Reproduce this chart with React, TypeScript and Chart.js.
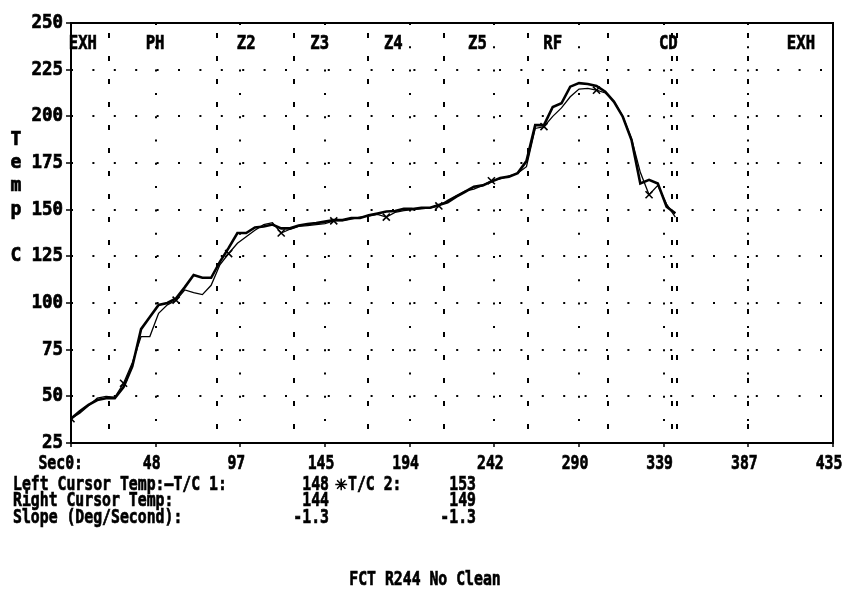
import { useEffect, useRef } from "react";
import { Chart, registerables } from "chart.js";

Chart.register(...registerables);

// ---- data ----
const timeSec = [
  0, 5, 10, 15, 20, 25, 30, 35, 40, 45, 50, 55, 60, 65, 70, 75, 80, 85, 90, 95,
  100, 105, 110, 115, 120, 125, 130, 135, 140, 145, 150, 155, 160, 165, 170, 175,
  180, 185, 190, 195, 200, 205, 210, 215, 220, 225, 230, 235, 240, 245, 250, 255,
  260, 265, 270, 275, 280, 285, 290, 295, 300, 305, 310, 315, 320, 325, 330, 335,
  340, 345,
];
const tc1Temp = [
  38, 42, 45.5, 48, 49, 49, 55, 66, 86, 92.5, 99, 100, 102.5, 108.5, 115, 113.5,
  113.5, 122, 129.5, 137.5, 137.5, 140.5, 141, 142, 140, 140, 141.5, 142.3, 142.8,
  143.6, 144.5, 144.5, 145.5, 145.5, 147, 148, 149, 149.3, 150.4, 150.4, 151, 151,
  152.5, 154, 157, 159.6, 162.3, 163, 165, 167, 167.7, 169.6, 176, 195.3, 195.3,
  205, 207, 215.9, 217.8, 217.3, 216.3, 213.2, 207.8, 199.8, 187.3, 164, 166, 164,
  151.6, 148,
];
const tc2Temp = [
  38, 41, 45, 49, 50, 49.5, 57, 68, 82, 82, 94.5, 99, 101.5, 107, 105.5, 104.5,
  109.5, 120.5, 126.5, 132, 135.5, 139, 142, 143, 137.5, 139.5, 141, 141.5, 142,
  142.5, 144, 144, 145, 146, 146.5, 147.5, 146, 148.5, 149.5, 150, 150.5, 151, 152,
  155, 157.5, 160, 161, 163, 165.5, 166.5, 168, 169.5, 173, 193.5, 194.5, 200,
  204.5, 210.5, 214.6, 215, 214, 212.5, 208, 200, 188, 170, 158, 163, 153, 146,
];
const xTickValues = [0, 48.33, 96.67, 145, 193.33, 241.67, 290, 338.33, 386.67, 435];
const xTickLabels = ["Sec0:", "48", "97", "145", "194", "242", "290", "339", "387", "435"];
const yTickValues = [25, 50, 75, 100, 125, 150, 175, 200, 225, 250];
const zoneBoundarySec = [21.7, 83.3, 127.3, 169.5, 212.9, 260.8, 306.5, 343, 345.9, 386.4];
const zoneLabels = ["EXH", "PH", "Z2", "Z3", "Z4", "Z5", "RF", "CD", "EXH"];
const zoneLabelSec = [6.8, 48, 100, 142, 184, 232, 275, 341, 416.7];
const yAxisTitle = ["T", "e", "m", "p", "", "C"];
const cursorRowLabels = ["Left Cursor Temp:\u2014T/C 1:", "Right Cursor Temp:", "Slope (Deg/Second):"];
const tc2LegendMark = "\u2733";
const tc2LegendText = "T/C 2:";
const tc1Cursor = ["148", "144", "-1.3"];
const tc2Cursor = ["153", "149", "-1.3"];
const chartTitle = "FCT R244 No Clean";

const FONT = "'DejaVu Sans Mono', 'Liberation Mono', monospace";

function drawText(
  ctx: CanvasRenderingContext2D,
  text: string,
  x: number,
  y: number,
  align: CanvasTextAlign,
  sx = 0.74,
  size = 20
) {
  ctx.save();
  ctx.font = `bold ${size}px ${FONT}`;
  ctx.textAlign = align;
  ctx.textBaseline = "middle";
  ctx.fillStyle = "#000";
  ctx.strokeStyle = "#000";
  ctx.lineWidth = 0.7;
  ctx.translate(x, y);
  ctx.scale(sx, 1);
  ctx.fillText(text, 0, 0);
  ctx.strokeText(text, 0, 0);
  ctx.restore();
}

const gridPlugin = {
  id: "dosGrid",
  beforeDatasetsDraw(chart: any) {
    const { ctx, chartArea: a, scales } = chart;
    const xs = scales.x;
    const ys = scales.y;
    ctx.save();
    ctx.strokeStyle = "#000";
    // horizontal dotted rows
    ctx.lineWidth = 2;
    ctx.setLineDash([2, 19.4]);
    yTickValues.forEach((v) => {
      if (v === 25 || v === 250) return;
      const y = Math.round(ys.getPixelForValue(v));
      ctx.beginPath();
      ctx.moveTo(a.left, y);
      ctx.lineTo(a.right, y);
      ctx.stroke();
    });
    // vertical dotted columns
    ctx.setLineDash([2, 21.3]);
    xTickValues.forEach((v, i) => {
      if (i === 0 || i === xTickValues.length - 1) return;
      const x = Math.round(xs.getPixelForValue(v));
      ctx.beginPath();
      ctx.moveTo(x, a.top);
      ctx.lineTo(x, a.bottom);
      ctx.stroke();
    });
    // zone boundaries
    ctx.setLineDash([5, 18]);
    ctx.lineDashOffset = -10;
    zoneBoundarySec.forEach((v) => {
      const x = Math.round(xs.getPixelForValue(v));
      ctx.beginPath();
      ctx.moveTo(x, a.top);
      ctx.lineTo(x, a.bottom);
      ctx.stroke();
    });
    ctx.setLineDash([]);
    ctx.lineDashOffset = 0;
    // frame
    ctx.lineWidth = 2;
    ctx.beginPath();
    ctx.moveTo(a.left, a.top);
    ctx.lineTo(a.right, a.top);
    ctx.lineTo(a.right, a.bottom);
    ctx.lineTo(a.left, a.bottom);
    ctx.closePath();
    ctx.stroke();
    // tick marks
    ctx.lineWidth = 1.5;
    yTickValues.forEach((v) => {
      const y = Math.round(ys.getPixelForValue(v));
      ctx.beginPath();
      ctx.moveTo(a.left - 5, y);
      ctx.lineTo(a.left, y);
      ctx.stroke();
    });
    xTickValues.forEach((v) => {
      const x = Math.round(xs.getPixelForValue(v));
      ctx.beginPath();
      ctx.moveTo(x, a.bottom);
      ctx.lineTo(x, a.bottom + 4);
      ctx.stroke();
    });
    ctx.restore();
  },
  afterDraw(chart: any) {
    const { ctx, chartArea: a, scales } = chart;
    const xs = scales.x;
    const ys = scales.y;
    // y tick labels
    yTickValues.forEach((v) => {
      drawText(ctx, String(v), a.left - 8, ys.getPixelForValue(v), "right", 0.92, 19);
    });
    // y axis title (stacked letters)
    const rowH = (ys.getPixelForValue(175) - ys.getPixelForValue(200)) / 2;
    const y0 = ys.getPixelForValue(175) - rowH;
    yAxisTitle.forEach((ch, i) => {
      if (!ch) return;
      drawText(ctx, ch, 16, y0 + i * rowH, "center", 0.95, 19);
    });
    // zone labels
    const zy = ys.getPixelForValue(239);
    zoneLabels.forEach((lab, i) => {
      drawText(ctx, lab, xs.getPixelForValue(zoneLabelSec[i]), zy, "center", 0.78, 20);
    });
    // x tick labels
    const ly = a.bottom + 21;
    xTickLabels.forEach((lab, i) => {
      const x = xs.getPixelForValue(xTickValues[i]);
      if (i === 0) drawText(ctx, lab, x + 12, ly, "right");
      else drawText(ctx, lab, x - 4, ly, "center");
    });
    // cursor info rows
    const rowsY = [a.bottom + 42, a.bottom + 58, a.bottom + 75];
    cursorRowLabels.forEach((lab, i) => {
      drawText(ctx, lab, 13, rowsY[i], "left");
      drawText(ctx, tc1Cursor[i], 329, rowsY[i], "right");
      drawText(ctx, tc2Cursor[i], 476, rowsY[i], "right");
    });
    drawText(ctx, tc2LegendMark, 341, rowsY[0], "center", 1, 20);
    drawText(ctx, tc2LegendText, 348, rowsY[0], "left");
    // title
    drawText(ctx, chartTitle, 425, a.bottom + 137, "center");
  },
};

export default function App() {
  const ref = useRef<HTMLCanvasElement>(null);
  useEffect(() => {
    document.body.style.margin = "0";
    if (!ref.current) return;
    const chart = new Chart(ref.current, {
      type: "line",
      data: {
        datasets: [
          {
            label: "T/C 1",
            data: timeSec.map((t, i) => ({ x: t, y: tc1Temp[i] })),
            borderColor: "#000",
            borderWidth: 2.6,
            pointRadius: 0,
            tension: 0,
          },
          {
            label: "T/C 2",
            data: timeSec.map((t, i) => ({ x: t, y: tc2Temp[i] })),
            borderColor: "#000",
            borderWidth: 1.3,
            tension: 0,
            pointStyle: "crossRot",
            pointRadius: (c: any) => (c.dataIndex % 6 === 0 ? 5 : 0),
            pointBorderWidth: 1.6,
            pointBorderColor: "#000",
            pointBackgroundColor: "#000",
          },
        ],
      },
      options: {
        responsive: false,
        animation: false,
        layout: { padding: { left: 71, top: 23, right: 14, bottom: 155 } },
        plugins: {
          legend: { display: false },
          tooltip: { enabled: false },
          title: { display: false },
        },
        scales: {
          x: { type: "linear", min: 0, max: 435, display: false },
          y: { type: "linear", min: 25, max: 250, display: false },
        },
      },
      plugins: [gridPlugin],
    });
    return () => chart.destroy();
  }, []);
  return (
    <div style={{ width: 847, height: 598, background: "#fff" }}>
      <canvas ref={ref} width={847} height={598} style={{ display: "block" }} />
    </div>
  );
}
